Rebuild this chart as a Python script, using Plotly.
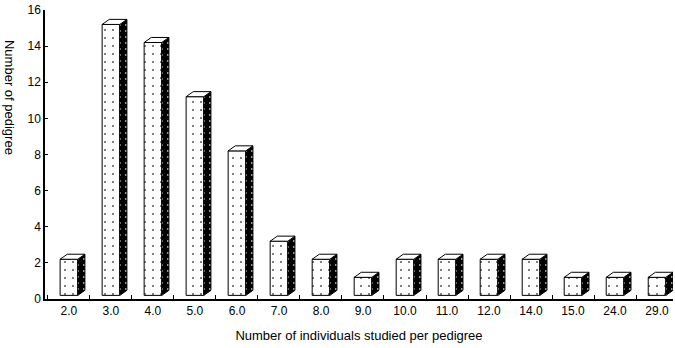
import plotly.graph_objects as go

categories = ["2.0", "3.0", "4.0", "5.0", "6.0", "7.0", "8.0", "9.0", "10.0",
              "11.0", "12.0", "14.0", "15.0", "24.0", "29.0"]
pedigrees = [2, 15, 14, 11, 8, 3, 2, 1, 2, 2, 2, 2, 1, 1, 1]
y_ticks = [0, 2, 4, 6, 8, 10, 12, 14, 16]

# styling constants for the pseudo-3D bars
W = 0.42      # front face width (category units)
DX = 0.17     # depth offset in x
DY = 0.28     # depth offset in y
BASE = 0.2    # small lift of bars above axis

xs = list(range(len(categories)))

fig = go.Figure()

fig.add_trace(go.Bar(
    x=xs, y=pedigrees, base=BASE, width=W,
    marker=dict(color="white", line=dict(color="black", width=1),
                pattern=dict(shape=".", fgcolor="#555555", bgcolor="white",
                             size=8, solidity=0.05, fillmode="replace")),
    showlegend=False, hoverinfo="skip"))

side_x, side_y, top_x, top_y = [], [], [], []
for i, v in zip(xs, pedigrees):
    r = i + W / 2
    l = i - W / 2
    t = BASE + v
    side_x += [r, r + DX, r + DX, r, r, None]
    side_y += [BASE, BASE + DY, t + DY, t, BASE, None]
    top_x += [l, l + DX, r + DX, r, l, None]
    top_y += [t, t + DY, t + DY, t, t, None]

fig.add_trace(go.Scatter(
    x=side_x, y=side_y, mode="lines", fill="toself",
    fillcolor="black", line=dict(color="black", width=1),
    fillpattern=dict(shape=".", fgcolor="#cccccc", bgcolor="black",
                     size=6, solidity=0.08, fillmode="replace"),
    showlegend=False, hoverinfo="skip"))

fig.add_trace(go.Scatter(
    x=top_x, y=top_y, mode="lines", fill="toself",
    fillcolor="white", line=dict(color="black", width=1),
    showlegend=False, hoverinfo="skip"))

fig.update_layout(
    width=675, height=348,
    margin=dict(l=45, r=2, t=10, b=49),
    plot_bgcolor="white", paper_bgcolor="white",
    font=dict(family="Liberation Sans, Arial, sans-serif", color="black", size=12),
    xaxis=dict(
        range=[-0.57, 14.38], tickmode="array", tickvals=xs, ticktext=categories,
        ticks="", showline=True, linecolor="black", linewidth=1.5,
        showgrid=False, zeroline=False,
        minor=dict(tick0=0.5, dtick=1, ticks="inside", ticklen=4,
                   tickcolor="black", showgrid=False),
        title=dict(text="Number of individuals studied per pedigree",
                   font=dict(size=13), standoff=14),
    ),
    yaxis=dict(
        range=[0, 16], tickmode="array", tickvals=y_ticks,
        ticks="inside", ticklen=3, tickcolor="black",
        showline=True, linecolor="black", linewidth=1.5,
        showgrid=False, zeroline=False,
    ),
    annotations=[dict(
        text="Number of pedigree", textangle=90, showarrow=False,
        xref="paper", yref="paper", x=-0.0573, y=0.699,
        xanchor="center", yanchor="middle", font=dict(size=13))],
)

fig.write_html("out.html",
               config={"displayModeBar": False},
               post_script="document.body.style.margin='0';"
                           "document.body.style.overflow='hidden';")
